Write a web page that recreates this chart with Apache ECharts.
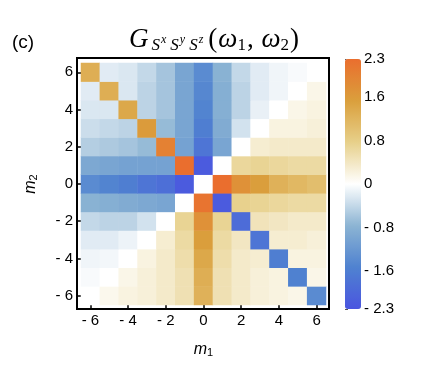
<!DOCTYPE html>
<html><head><meta charset="utf-8">
<script src="https://cdn.jsdelivr.net/npm/echarts@6/dist/echarts.min.js"></script>
<style>html,body{margin:0;padding:0;background:#fff}#c{width:435px;height:368px}</style>
</head><body><div id="c"></div>
<script>
// m1 (columns) and m2 (rows) categories
const m1Values = [-6,-5,-4,-3,-2,-1,0,1,2,3,4,5,6];
const m2Values = [-6,-5,-4,-3,-2,-1,0,1,2,3,4,5,6];
// rows, each listed for m1 = -6 ... 6
const row_m2_p6 = [1.30,-0.20,-0.25,-0.40,-0.60,-1.00,-1.40,-0.80,-0.40,-0.20,-0.10,-0.05,0.00];
const row_m2_p5 = [-0.20,1.30,-0.25,-0.45,-0.60,-1.00,-1.45,-0.85,-0.45,-0.20,-0.10,0.00,0.15];
const row_m2_p4 = [-0.25,-0.25,1.40,-0.45,-0.60,-1.00,-1.50,-0.85,-0.45,-0.15,0.00,0.15,0.20];
const row_m2_p3 = [-0.35,-0.40,-0.45,1.60,-0.70,-1.00,-1.60,-0.90,-0.30,0.00,0.20,0.20,0.25];
const row_m2_p2 = [-0.50,-0.55,-0.60,-0.70,2.00,-1.05,-1.75,-1.00,0.00,0.30,0.35,0.35,0.35];
const row_m2_p1 = [-0.95,-1.00,-1.05,-1.05,-1.05,2.30,-2.20,0.00,0.65,0.70,0.65,0.60,0.60];
const row_m2_0  = [-1.40,-1.50,-1.60,-1.75,-1.85,-2.20,0.00,2.30,1.75,1.55,1.25,1.15,1.05];
const row_m2_m1 = [-0.80,-0.85,-0.90,-0.95,-1.00,0.00,2.20,-2.20,0.75,0.70,0.65,0.60,0.60];
const row_m2_m2 = [-0.40,-0.45,-0.45,-0.30,0.00,0.70,1.75,0.70,-1.90,0.45,0.40,0.35,0.35];
const row_m2_m3 = [-0.20,-0.20,-0.12,0.00,0.30,0.60,1.55,0.60,0.40,-1.75,0.30,0.30,0.25];
const row_m2_m4 = [-0.10,-0.08,0.00,0.20,0.35,0.55,1.40,0.55,0.35,0.30,-1.60,0.20,0.20];
const row_m2_m5 = [-0.05,0.00,0.15,0.25,0.35,0.50,1.30,0.50,0.35,0.25,0.20,-1.55,0.15];
const row_m2_m6 = [0.00,0.12,0.20,0.25,0.35,0.50,1.25,0.50,0.35,0.25,0.20,0.15,-1.40];
const colorbarTicks = [-2.3,-1.6,-0.8,0,0.8,1.6,2.3];
const valueMin = -2.3, valueMax = 2.3;

const rowsByM2 = {
  '-6': row_m2_m6, '-5': row_m2_m5, '-4': row_m2_m4, '-3': row_m2_m3, '-2': row_m2_m2, '-1': row_m2_m1,
  '0': row_m2_0, '1': row_m2_p1, '2': row_m2_p2, '3': row_m2_p3, '4': row_m2_p4, '5': row_m2_p5, '6': row_m2_p6
};
const data = [];
m2Values.forEach((m2, yi) => {
  rowsByM2[String(m2)].forEach((v, xi) => data.push([xi, yi, v]));
});

const fmt = v => { const n = Number(v); return n < 0 ? '- ' + String(-n) : String(n); };
const FONT = '"Liberation Sans", Arial, sans-serif';
const SERIF = '"Liberation Serif", "DejaVu Serif", serif';

const chart = echarts.init(document.getElementById('c'), null, {renderer: 'canvas'});
chart.setOption({
  animation: false,
  backgroundColor: '#fff',
  grid: [
    {left: 81, top: 63, width: 245, height: 242},
    {left: 345, top: 59, width: 16, height: 250, show: false}
  ],
  xAxis: [
    {type: 'category', gridIndex: 0, data: m1Values.map(String),
     axisLine: {show: false},
     axisTick: {show: true, interval: 1, alignWithLabel: true, length: 3, lineStyle: {color: '#000', width: 1.5}},
     axisLabel: {interval: 1, formatter: fmt, color: '#000', fontSize: 15, fontFamily: FONT, margin: 8},
     name: '{i|m}{s|1}', nameLocation: 'middle', nameGap: 36,
     nameTextStyle: {rich: {i: {fontSize: 16, fontStyle: 'italic', fontFamily: FONT, color: '#000'},
                            s: {fontSize: 11, fontFamily: FONT, color: '#000', verticalAlign: 'bottom', padding: [6,0,0,0]}}}},
    {type: 'value', gridIndex: 1, show: false, min: 0, max: 1}
  ],
  yAxis: [
    {type: 'category', gridIndex: 0, data: m2Values.map(String),
     axisLine: {show: false},
     axisTick: {show: true, interval: 1, alignWithLabel: true, length: 3, lineStyle: {color: '#000', width: 1.5}},
     axisLabel: {interval: 1, formatter: fmt, color: '#000', fontSize: 15, fontFamily: FONT, margin: 8},
     name: '{i|m}{s|2}', nameLocation: 'middle', nameGap: 42,
     nameTextStyle: {rich: {i: {fontSize: 16, fontStyle: 'italic', fontFamily: FONT, color: '#000'},
                            s: {fontSize: 11, fontFamily: FONT, color: '#000', verticalAlign: 'bottom', padding: [6,0,0,0]}}}},
    {type: 'value', gridIndex: 1, position: 'right', min: valueMin, max: valueMax,
     axisLine: {show: false}, splitLine: {show: false},
     axisTick: {show: true, customValues: colorbarTicks, length: 3, lineStyle: {color: '#555'}},
     axisLabel: {customValues: colorbarTicks, formatter: fmt, color: '#000', fontSize: 15, fontFamily: FONT, margin: 3}}
  ],
  visualMap: {
    type: 'continuous', min: valueMin, max: valueMax, seriesIndex: 0,
    calculable: false, orient: 'vertical', left: 345, top: 59,
    itemWidth: 16, itemHeight: 250, padding: 0, text: null, showLabel: false,
    inRange: {color: ['#4A55E0', '#4F82D0', '#8CB4D3', '#FFFFFF', '#E7D08A', '#DA9F3C', '#EA6E2E']}
  },
  series: [{
    type: 'heatmap', xAxisIndex: 0, yAxisIndex: 0, data: data,
    itemStyle: {borderWidth: 0}, emphasis: {disabled: true}
  }],
  graphic: [
    {type: 'rect', shape: {x: 77, y: 58, width: 252, height: 251}, style: {fill: null, stroke: '#000', lineWidth: 2}, z: 100},
    {type: 'text', left: 12, top: 33, style: {text: '(c)', font: '19px "Liberation Sans", Arial, sans-serif', fill: '#000'}},
    {type: 'text', left: 129, top: 26, style: {
      text: '{g|G}{sb|S}{sp|x}{sb|S}{sp|y}{sb|S}{sp|z}{p|(}{w|ω}{n|1}{p|, }{w|ω}{n|2}{p|)}',
      rich: {
        g: {font: 'italic 27px ' + SERIF, fill: '#000', verticalAlign: 'middle', lineHeight: 30, padding: [0,3,0,0]},
        sb: {font: 'italic 17px ' + SERIF, fill: '#000', verticalAlign: 'bottom', lineHeight: 16},
        sp: {font: 'italic 12px ' + SERIF, fill: '#000', verticalAlign: 'middle', lineHeight: 12, padding: [0,4,0,1]},
        p: {font: '27px ' + SERIF, fill: '#000', verticalAlign: 'middle', lineHeight: 30, padding: [0,1,0,1]},
        w: {font: 'italic 27px ' + SERIF, fill: '#000', verticalAlign: 'middle', lineHeight: 30},
        n: {font: '17px ' + SERIF, fill: '#000', verticalAlign: 'bottom', lineHeight: 16}
      }
    }}
  ]
});
</script></body></html>
